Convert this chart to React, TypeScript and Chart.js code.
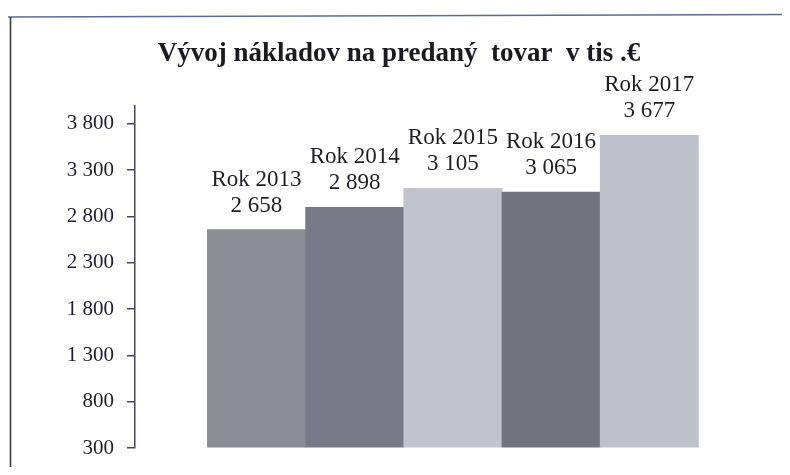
import React, { useEffect, useRef } from "react";
import { Chart, registerables } from "chart.js";

Chart.register(...registerables);

const title = "Vývoj nákladov na predaný  tovar  v tis .€";
const categories = ["Rok 2013", "Rok 2014", "Rok 2015", "Rok 2016", "Rok 2017"];
const values = [2658, 2898, 3105, 3065, 3677];
const yTicks = [300, 800, 1300, 1800, 2300, 2800, 3300, 3800];
const yMin = 300;
const yMax = 4000;

const barBase = ["#8c8c95", "#777987", "#c1c2cb", "#72737f", "#bdbfcb"];
const barLight = ["#a5a5ad", "#9496a4", "#dcdce2", "#8d8e9b", "#d4d5de"];

const fmt = (v: number) => String(v).replace(/\B(?=(\d{3})+(?!\d))/g, " ");

const framePlugin = {
  id: "frame",
  beforeDraw(chart: any) {
    const { ctx, width, height } = chart;
    ctx.save();
    ctx.fillStyle = "#ffffff";
    ctx.fillRect(0, 0, width, height);
    ctx.lineWidth = 1.6;
    ctx.strokeStyle = "#5b6b9a";
    ctx.beginPath();
    ctx.moveTo(0, 9);
    ctx.lineTo(width, 6.5);
    ctx.stroke();
    ctx.strokeStyle = "#3a3a3a";
    ctx.beginPath();
    ctx.moveTo(2.5, 9);
    ctx.lineTo(2.5, height);
    ctx.stroke();
    ctx.restore();
  },
};

const labelPlugin = {
  id: "barLabels",
  afterDatasetsDraw(chart: any) {
    const { ctx } = chart;
    const meta = chart.getDatasetMeta(0);
    ctx.save();
    ctx.fillStyle = "#1e1e28";
    ctx.font = "23px 'Liberation Serif'";
    ctx.textAlign = "center";
    ctx.textBaseline = "middle";
    meta.data.forEach((bar: any, i: number) => {
      ctx.fillText(categories[i], bar.x, bar.y - 50);
      ctx.fillText(fmt(values[i]), bar.x, bar.y - 24);
    });
    ctx.restore();
  },
};

export default function App() {
  const ref = useRef<HTMLCanvasElement | null>(null);

  useEffect(() => {
    if (!ref.current) return;
    const chart = new Chart(ref.current, {
      type: "bar",
      data: {
        datasets: [
          {
            data: values.map((v, i) => ({ x: i, y: v })),
            backgroundColor: (c: any) => {
              const i = c.dataIndex;
              const el = c.element;
              const area = c.chart.chartArea;
              if (!area || !el || el.x === undefined) return barBase[i];
              const w = 98;
              const g = c.chart.ctx.createLinearGradient(el.x - w / 2, area.top, el.x + w / 2, area.bottom);
              g.addColorStop(0, barBase[i]);
              g.addColorStop(0.35, barLight[i]);
              g.addColorStop(0.55, barBase[i]);
              g.addColorStop(0.8, barLight[i]);
              g.addColorStop(1, barBase[i]);
              return g;
            },
            borderWidth: 0,
            barPercentage: 1,
            categoryPercentage: 1,
            base: yMin,
          },
        ],
      },
      options: {
        responsive: false,
        animation: false,
        events: [],
        layout: { padding: { top: 30, right: 0, bottom: 19, left: 0 } },
        plugins: {
          legend: { display: false },
          tooltip: { enabled: false },
          title: {
            display: true,
            text: title,
            color: "#1a1a22",
            font: { family: "'Liberation Serif'", size: 27, weight: "bold", lineHeight: 1.2 },
            padding: { top: 0, bottom: 35 },
          },
        },
        scales: {
          x: {
            type: "linear",
            display: false,
            offset: false,
            min: -1.237,
            max: 5.433,
            afterBuildTicks: (s: any) => {
              s.ticks = values.map((_, i) => ({ value: i }));
            },
          },
          y: {
            min: yMin,
            max: yMax,
            afterFit: (s: any) => {
              s.width = 127;
              s.paddingTop = 0;
              s.paddingBottom = 0;
            },
            afterBuildTicks: (s: any) => {
              s.ticks = yTicks.map((v) => ({ value: v }));
            },
            border: { display: true, color: "#45465a", width: 1.5 },
            grid: {
              display: true,
              drawOnChartArea: false,
              drawTicks: true,
              tickLength: 8,
              color: "#45465a",
              lineWidth: 1.5,
            },
            ticks: {
              padding: 13,
              color: "#1e1e30",
              font: { family: "'Liberation Serif'", size: 21 },
              callback: (v: any) => fmt(Number(v)),
            },
          },
        },
      },
      plugins: [framePlugin, labelPlugin],
    });
    return () => chart.destroy();
  }, []);

  return (
    <div style={{ width: 782, height: 459 }}>
      <canvas ref={ref} width={782} height={459} />
    </div>
  );
}
